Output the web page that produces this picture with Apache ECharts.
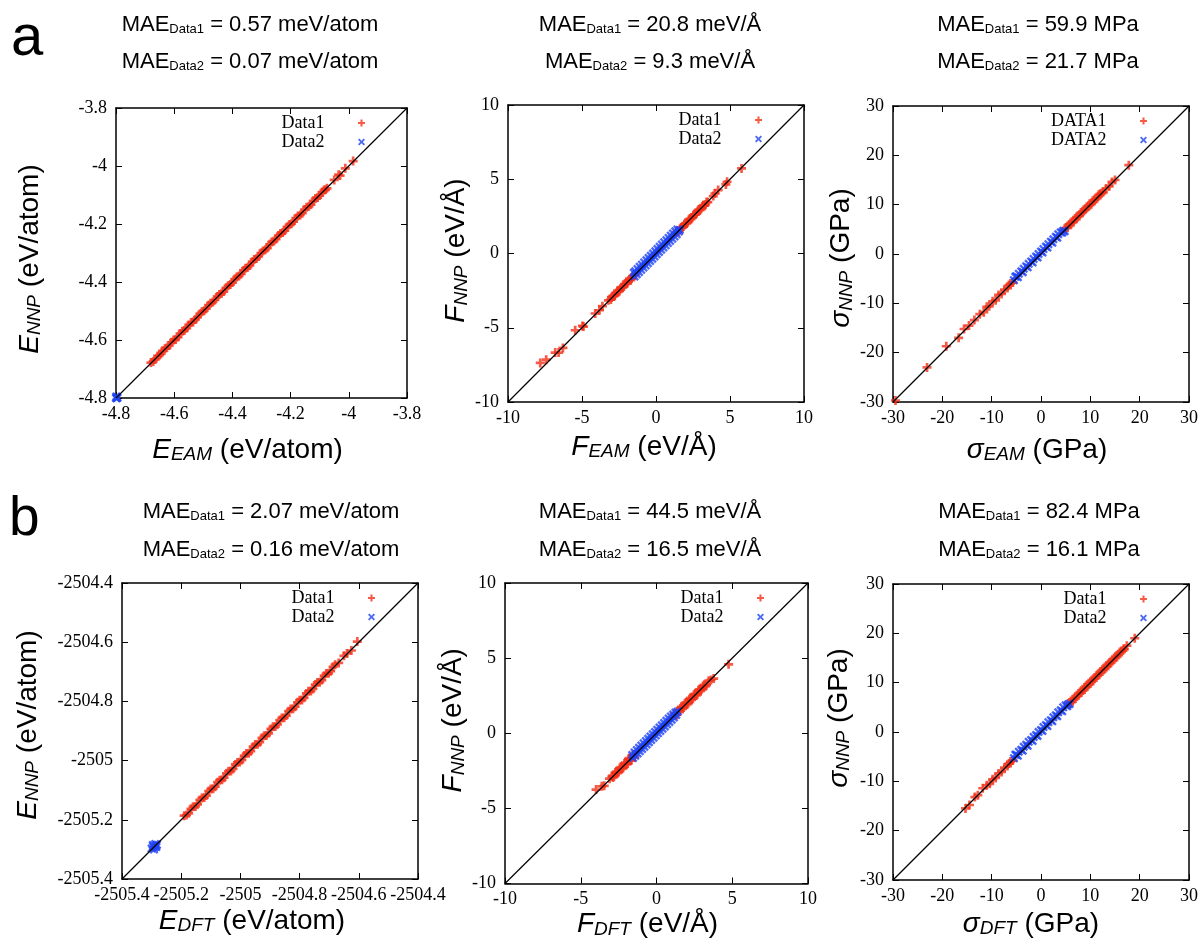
<!DOCTYPE html>
<html>
<head>
<meta charset="utf-8">
<script src="https://cdn.jsdelivr.net/npm/echarts@6/dist/echarts.min.js"></script>
<style>
html, body { margin: 0; padding: 0; background: #fff; }
#chart { width: 1201px; height: 940px; }
</style>
</head>
<body>
<div id="chart"></div>
<script>
// ---------- values ----------
// axis ranges: [min, max, interval]
var eamEnergyAxis = [-4.8, -3.8, 0.2];
var eamForceAxis = [-10, 10, 5];
var eamStressAxis = [-30, 30, 10];
var dftEnergyAxis = [-2505.4, -2504.4, 0.2];
var dftForceAxis = [-10, 10, 5];
var dftStressAxis = [-30, 30, 10];

// row a : EAM reference vs NNP
var eamEnergyData1 = [[-4.680,-4.678],[-4.672,-4.674],[-4.665,-4.667],[-4.657,-4.655],[-4.650,-4.652],[-4.645,-4.647],
  [-4.640,-4.637],[-4.632,-4.630],[-4.625,-4.627],[-4.617,-4.619],[-4.610,-4.608],[-4.602,-4.600],[-4.595,-4.598],
  [-4.587,-4.590],[-4.580,-4.578],[-4.572,-4.570],[-4.565,-4.567],[-4.557,-4.559],[-4.550,-4.548],[-4.542,-4.540],
  [-4.535,-4.538],[-4.527,-4.529],[-4.520,-4.521],[-4.512,-4.510],[-4.505,-4.503],[-4.497,-4.499],[-4.490,-4.492],
  [-4.482,-4.480],[-4.475,-4.473],[-4.467,-4.469],[-4.460,-4.462],[-4.452,-4.450],[-4.445,-4.443],[-4.437,-4.439],
  [-4.430,-4.433],[-4.422,-4.420],[-4.415,-4.413],[-4.407,-4.409],[-4.400,-4.402],[-4.392,-4.390],[-4.385,-4.383],
  [-4.377,-4.379],[-4.370,-4.372],[-4.362,-4.360],[-4.355,-4.353],[-4.347,-4.349],[-4.340,-4.343],[-4.332,-4.330],
  [-4.325,-4.322],[-4.317,-4.319],[-4.310,-4.312],[-4.302,-4.300],[-4.295,-4.293],[-4.287,-4.289],[-4.280,-4.283],
  [-4.272,-4.270],[-4.265,-4.262],[-4.257,-4.259],[-4.250,-4.252],[-4.242,-4.240],[-4.235,-4.233],[-4.227,-4.229],
  [-4.220,-4.223],[-4.212,-4.210],[-4.205,-4.203],[-4.197,-4.199],[-4.190,-4.192],[-4.182,-4.180],[-4.175,-4.172],
  [-4.167,-4.169],[-4.160,-4.163],[-4.152,-4.150],[-4.145,-4.142],[-4.137,-4.139],[-4.130,-4.133],[-4.122,-4.120],
  [-4.115,-4.112],[-4.107,-4.109],[-4.100,-4.102],[-4.092,-4.090],[-4.085,-4.083],[-4.080,-4.082],[-4.075,-4.077],
  [-4.050,-4.048],[-4.035,-4.030],[-4.030,-4.033],[-4.012,-4.008],[-3.985,-3.983]];
var eamEnergyData2 = [[-4.800,-4.800],[-4.797,-4.797],[-4.799,-4.795],[-4.795,-4.799],[-4.798,-4.801]];

var eamForceData1 = [[-7.82,-7.37],[-7.42,-7.15],[-6.81,-6.67],[-6.58,-6.67],[-6.29,-6.36],[-5.46,-5.17],[-4.97,-4.88],
  [-4.90,-4.92],[-4.11,-4.04],[-3.82,-3.82],[-3.62,-3.55],[-3.21,-3.15],[-3.05,-3.10],[-3.00,-2.95],[-2.92,-2.86],
  [-2.85,-2.88],[-2.78,-2.82],[-2.70,-2.66],[-2.60,-2.50],[-2.55,-2.58],[-2.47,-2.52],[-2.40,-2.36],[-2.32,-2.27],
  [-2.25,-2.29],[-2.17,-2.22],[-2.10,-2.06],[-2.00,-1.90],[-1.95,-1.99],[-1.87,-1.83],[-1.80,-1.76],[-1.70,-1.80],
  [-1.65,-1.69],[-1.57,-1.53],[-1.50,-1.46],[-1.40,-1.42],
  [1.40,1.45],[1.48,1.52],[1.55,1.50],[1.62,1.66],[1.70,1.74],[1.77,1.73],[1.85,1.81],[1.92,1.97],[2.00,2.05],
  [2.07,2.02],[2.15,2.11],[2.22,2.27],[2.30,2.34],[2.37,2.32],[2.45,2.41],[2.52,2.57],[2.60,2.64],[2.67,2.62],
  [2.75,2.71],[2.82,2.87],[2.90,2.95],[2.97,2.92],[3.05,3.01],[3.12,3.17],[3.20,3.24],[3.27,3.22],[3.35,3.30],
  [3.42,3.47],[3.50,3.45],[3.87,3.87],[3.98,4.04],[4.20,4.27],[4.72,4.65],[4.80,4.83],[5.78,5.73]];
var eamForceData2 = [[-1.50,-1.30],[-1.45,-1.55],[-1.40,-1.20],[-1.30,-1.40],[-1.25,-1.05],[-1.15,-1.25],[-1.10,-0.90],
  [-1.00,-1.10],[-0.95,-0.75],[-0.85,-0.95],[-0.80,-0.60],[-0.70,-0.80],[-0.65,-0.45],[-0.55,-0.65],[-0.50,-0.30],
  [-0.40,-0.50],[-0.35,-0.15],[-0.25,-0.35],[-0.20,0.00],[-0.10,-0.20],[-0.05,0.15],[0.05,-0.05],[0.10,0.30],
  [0.20,0.10],[0.25,0.45],[0.35,0.25],[0.40,0.60],[0.50,0.40],[0.55,0.75],[0.65,0.55],[0.70,0.90],[0.80,0.70],
  [0.85,1.05],[0.95,0.85],[1.00,1.20],[1.10,1.00],[1.15,1.35],[1.25,1.15],[1.30,1.50],[1.40,1.30],[1.45,1.62],
  [1.55,1.48],[1.60,1.58]];

var eamStressData1 = [[-29.5,-29.7],[-23.1,-23.0],[-19.2,-18.7],[-16.7,-17.0],[-15.6,-15.2],[-14.6,-14.5],[-13.5,-13.4],
  [-12.4,-12.2],[-11.6,-11.8],[-11.0,-10.7],[-10.5,-10.6],[-9.8,-9.6],[-9.2,-9.4],[-8.6,-8.3],[-8.0,-8.1],[-7.4,-7.2],
  [-6.8,-6.9],[-6.5,-6.3],[-6.2,-6.0],[-5.7,-5.8],
  [4.8,5.1],[5.1,5.3],[5.4,5.3],[5.7,6.0],[6.0,6.3],[6.3,6.3],[6.6,6.5],[6.9,7.2],[7.2,7.5],[7.5,7.5],[7.8,7.7],
  [8.1,8.4],[8.4,8.6],[8.7,8.7],[9.0,9.0],[9.3,9.6],[9.6,9.8],[9.9,9.9],[10.2,10.1],[10.5,10.8],[10.8,11.0],
  [11.1,11.1],[11.4,11.3],[11.7,12.0],[12.0,12.2],[12.3,12.3],[12.6,12.5],[13.2,13.3],[13.8,13.7],[14.4,14.6],
  [15.0,15.0],[17.8,18.0]];
var eamStressData2 = [[-5.5,-5.3],[-5.2,-4.6],[-5.0,-4.5],[-4.7,-4.7],[-4.5,-4.0],[-4.0,-3.5],[-3.7,-3.7],[-3.5,-3.0],
  [-3.0,-2.5],[-2.7,-2.7],[-2.5,-2.0],[-2.0,-1.5],[-1.7,-1.7],[-1.5,-1.0],[-1.0,-0.5],[-0.7,-0.7],[-0.5,0.0],
  [0.0,0.5],[0.3,0.3],[0.5,1.0],[1.0,1.5],[1.3,1.3],[1.5,2.0],[2.0,2.5],[2.3,2.3],[2.5,3.0],[3.0,3.5],[3.3,3.3],
  [3.5,4.0],[4.0,4.4],[4.3,4.3],[4.5,4.7],[4.8,4.6]];

// row b : DFT reference vs NNP
var dftEnergyData1 = [[-2505.190,-2505.186],[-2505.182,-2505.184],[-2505.175,-2505.178],[-2505.167,-2505.163],
  [-2505.160,-2505.156],[-2505.152,-2505.155],[-2505.145,-2505.148],[-2505.137,-2505.133],[-2505.130,-2505.126],
  [-2505.122,-2505.125],[-2505.115,-2505.118],[-2505.107,-2505.103],[-2505.100,-2505.096],[-2505.092,-2505.095],
  [-2505.085,-2505.088],[-2505.077,-2505.073],[-2505.070,-2505.066],[-2505.062,-2505.065],[-2505.055,-2505.058],
  [-2505.047,-2505.043],[-2505.040,-2505.036],[-2505.032,-2505.035],[-2505.025,-2505.028],[-2505.017,-2505.013],
  [-2505.010,-2505.006],[-2505.002,-2505.005],[-2504.995,-2504.998],[-2504.987,-2504.983],[-2504.980,-2504.976],
  [-2504.972,-2504.975],[-2504.965,-2504.968],[-2504.957,-2504.953],[-2504.950,-2504.946],[-2504.942,-2504.945],
  [-2504.935,-2504.938],[-2504.927,-2504.923],[-2504.920,-2504.916],[-2504.912,-2504.915],[-2504.905,-2504.908],
  [-2504.897,-2504.893],[-2504.890,-2504.886],[-2504.882,-2504.885],[-2504.875,-2504.878],[-2504.867,-2504.863],
  [-2504.860,-2504.856],[-2504.852,-2504.855],[-2504.845,-2504.848],[-2504.837,-2504.833],[-2504.830,-2504.826],
  [-2504.822,-2504.825],[-2504.815,-2504.818],[-2504.807,-2504.803],[-2504.800,-2504.796],[-2504.792,-2504.795],
  [-2504.785,-2504.788],[-2504.777,-2504.773],[-2504.770,-2504.766],[-2504.762,-2504.765],[-2504.755,-2504.758],
  [-2504.747,-2504.743],[-2504.740,-2504.736],[-2504.732,-2504.735],[-2504.725,-2504.728],[-2504.717,-2504.713],
  [-2504.710,-2504.706],[-2504.702,-2504.705],[-2504.695,-2504.698],[-2504.687,-2504.683],[-2504.680,-2504.676],
  [-2504.668,-2504.670],[-2504.650,-2504.646],[-2504.640,-2504.638],[-2504.625,-2504.628],[-2504.605,-2504.598]];
var dftEnergyData2 = [[-2505.300,-2505.297],[-2505.295,-2505.290],[-2505.290,-2505.293],[-2505.285,-2505.288],
  [-2505.282,-2505.284],[-2505.292,-2505.300],[-2505.288,-2505.282],[-2505.296,-2505.285],[-2505.284,-2505.292]];

var dftForceData1 = [[-3.99,-3.75],[-3.61,-3.53],[-3.45,-3.50],[-3.10,-3.02],[-2.95,-2.88],[-2.87,-2.95],[-2.80,-2.86],
  [-2.72,-2.62],[-2.65,-2.55],[-2.57,-2.65],[-2.50,-2.58],[-2.42,-2.32],[-2.35,-2.25],[-2.27,-2.37],[-2.20,-2.30],
  [-2.12,-2.02],[-2.05,-1.95],[-1.97,-2.07],[-1.90,-2.02],[-1.85,-1.72],[-1.80,-1.65],[-1.72,-1.82],[-1.65,-1.78],
  [-1.57,-1.48],[-1.50,-1.42],[-1.45,-1.60],
  [1.20,1.32],[1.27,1.20],[1.35,1.25],[1.42,1.52],[1.50,1.45],[1.57,1.65],[1.65,1.75],[1.72,1.62],[1.80,1.72],
  [1.87,1.97],[1.95,2.05],[2.02,1.92],[2.10,2.02],[2.17,2.27],[2.25,2.35],[2.32,2.22],[2.40,2.30],[2.47,2.57],
  [2.55,2.62],[2.62,2.52],[2.70,2.60],[2.77,2.87],[2.85,2.92],[2.92,2.82],[3.00,2.95],[3.07,3.15],[3.15,3.22],
  [3.22,3.12],[3.30,3.20],[3.45,3.50],[3.60,3.55],[3.77,3.64],[4.76,4.59]];
var dftForceData2 = [[-1.60,-1.45],[-1.55,-1.65],[-1.45,-1.28],[-1.40,-1.50],[-1.30,-1.12],[-1.25,-1.35],[-1.15,-0.97],
  [-1.10,-1.20],[-1.00,-0.82],[-0.95,-1.05],[-0.85,-0.67],[-0.80,-0.90],[-0.70,-0.52],[-0.65,-0.75],[-0.55,-0.37],
  [-0.50,-0.60],[-0.40,-0.22],[-0.35,-0.45],[-0.25,-0.07],[-0.20,-0.30],[-0.10,0.08],[-0.05,-0.15],[0.05,0.23],
  [0.10,0.00],[0.20,0.38],[0.25,0.15],[0.35,0.53],[0.40,0.30],[0.50,0.68],[0.55,0.45],[0.65,0.83],[0.70,0.60],
  [0.80,0.98],[0.85,0.75],[0.95,1.12],[1.00,0.90],[1.10,1.25],[1.15,1.05],[1.25,1.38],[1.30,1.22],[1.40,1.45]];

var dftStressData1 = [[-15.3,-15.5],[-14.5,-14.8],[-13.4,-13.2],[-12.8,-12.8],[-11.8,-11.4],[-11.0,-10.8],[-10.4,-10.5],
  [-9.8,-9.6],[-9.2,-9.3],[-8.6,-8.4],[-8.0,-8.1],[-7.4,-7.2],[-6.8,-6.9],[-6.5,-6.4],[-6.2,-6.0],[-5.7,-5.8],
  [5.5,5.8],[5.8,5.6],[6.1,6.0],[6.4,6.6],[6.7,6.9],[7.0,6.8],[7.3,7.2],[7.6,7.8],[7.9,8.1],[8.2,8.0],[8.5,8.4],
  [8.8,9.0],[9.1,9.3],[9.4,9.2],[9.7,9.6],[10.0,10.2],[10.3,10.5],[10.6,10.4],[10.9,10.8],[11.2,11.4],[11.5,11.7],
  [11.8,11.6],[12.1,12.0],[12.4,12.6],[12.7,12.9],[13.0,12.8],[13.3,13.2],[13.6,13.8],[13.9,14.1],[14.2,14.0],
  [14.5,14.4],[14.8,15.0],[15.1,15.3],[15.4,15.2],[15.7,15.6],[16.0,16.2],[16.3,16.4],[16.6,16.5],[16.9,16.8],
  [17.4,17.5],[19.0,19.0]];
var dftStressData2 = [[-5.5,-5.3],[-5.2,-4.6],[-5.0,-4.6],[-4.7,-4.8],[-4.5,-4.0],[-4.0,-3.6],[-3.7,-3.8],[-3.5,-3.0],
  [-3.0,-2.6],[-2.7,-2.8],[-2.5,-2.0],[-2.0,-1.6],[-1.7,-1.8],[-1.5,-1.0],[-1.0,-0.6],[-0.7,-0.8],[-0.5,0.0],
  [0.0,0.4],[0.3,0.2],[0.5,1.0],[1.0,1.4],[1.3,1.2],[1.5,2.0],[2.0,2.4],[2.3,2.2],[2.5,3.0],[3.0,3.4],[3.3,3.2],
  [3.5,4.0],[4.0,4.4],[4.3,4.2],[4.5,5.0],[5.0,5.4],[5.3,5.2],[5.5,5.6],[5.8,5.7]];

// MAE annotations
var maeRowA = [['0.57 meV/atom', '0.07 meV/atom'], ['20.8 meV/\u00c5', '9.3 meV/\u00c5'], ['59.9 MPa', '21.7 MPa']];
var maeRowB = [['2.07 meV/atom', '0.16 meV/atom'], ['44.5 meV/\u00c5', '16.5 meV/\u00c5'], ['82.4 MPa', '16.1 MPa']];

// ---------- styling ----------
var SANS = 'Liberation Sans, Arial, Helvetica, sans-serif';
var SERIF = 'Liberation Serif, Times New Roman, serif';
var RED = '#f5321a';
var BLUE = '#1f44f5';
var plusPath = 'path://M2.8,0H5.2V2.8H8V5.2H5.2V8H2.8V5.2H0V2.8H2.8Z';
var crossPath = 'path://M1.5,0L4,2.5L6.5,0L8,1.5L5.5,4L8,6.5L6.5,8L4,5.5L1.5,8L0,6.5L2.5,4L0,1.5Z';

var nameRich = {
    it: { fontFamily: SANS, fontSize: 28, fontStyle: 'italic', lineHeight: 34, color: '#000' },
    sub: { fontFamily: SANS, fontSize: 19, fontStyle: 'italic', lineHeight: 19, padding: [10, 0, 0, 0], color: '#000' },
    rm: { fontFamily: SANS, fontSize: 28, lineHeight: 34, color: '#000' }
};
function axisName(sym, sub, unit) {
    return '{it|' + sym + '}{sub|' + sub + '}{rm| (' + unit + ')}';
}

// grid: [left, top, width, height]; xShift/yShift move the axis titles off-centre as in the figure
var panels = [
    { grid: [116, 108, 291, 290], axis: eamEnergyAxis, d1: eamEnergyData1, d2: eamEnergyData2, names: ['Data1', 'Data2'],
      xName: axisName('E', 'EAM', 'eV/atom'), yName: axisName('E', 'NNP', 'eV/atom'),
      xGap: 35, yGap: 69, xShift: -14, yShift: 6, legend: [836, 114] },
    { grid: [508, 105, 296, 297], axis: eamForceAxis, d1: eamForceData1, d2: eamForceData2, names: ['Data1', 'Data2'],
      xName: axisName('F', 'EAM', 'eV/\u00c5'), yName: axisName('F', 'NNP', 'eV/\u00c5'),
      xGap: 28, yGap: 18, xShift: -12, yShift: -3, legend: [439, 111] },
    { grid: [893, 106, 296, 296], axis: eamStressAxis, d1: eamStressData1, d2: eamStressData2, names: ['DATA1', 'DATA2'],
      xName: axisName('\u03c3', 'EAM', 'GPa'), yName: axisName('\u03c3', 'NNP', 'GPa'),
      xGap: 31, yGap: 31, xShift: -4, yShift: 4, legend: [54, 112] },
    { grid: [122, 583, 296, 296], axis: dftEnergyAxis, d1: dftEnergyData1, d2: dftEnergyData2, names: ['Data1', 'Data2'],
      xName: axisName('E', 'DFT', 'eV/atom'), yName: axisName('E', 'NNP', 'eV/atom'),
      xGap: 25, yGap: 77, xShift: -18, yShift: -6, legend: [826, 589] },
    { grid: [505, 583, 303, 301], axis: dftForceAxis, d1: dftForceData1, d2: dftForceData2, names: ['Data1', 'Data2'],
      xName: axisName('F', 'DFT', 'eV/\u00c5'), yName: axisName('F', 'NNP', 'eV/\u00c5'),
      xGap: 24, yGap: 13, xShift: -9, yShift: -13, legend: [437, 589] },
    { grid: [893, 584, 296, 296], axis: dftStressAxis, d1: dftStressData1, d2: dftStressData2, names: ['Data1', 'Data2'],
      xName: axisName('\u03c3', 'DFT', 'GPa'), yName: axisName('\u03c3', 'NNP', 'GPa'),
      xGap: 27, yGap: 37, xShift: -10, yShift: -14, legend: [54, 590] }
];

function fmt(v) { return String(Math.round(v * 1000) / 1000); }

var grids = [], xAxes = [], yAxes = [], series = [], legends = [];

panels.forEach(function (p, i) {
    grids.push({ left: p.grid[0], top: p.grid[1], width: p.grid[2], height: p.grid[3], containLabel: false });
    var base = {
        gridIndex: i, type: 'value', min: p.axis[0], max: p.axis[1], interval: p.axis[2],
        splitLine: { show: false },
        axisLine: { show: true, onZero: false, lineStyle: { color: '#000', width: 1.5 } },
        axisTick: { show: true, inside: true, length: 6, lineStyle: { color: '#000', width: 1 } }
    };
    var xs = p.xShift, ys = p.yShift;
    xAxes.push(Object.assign({}, base, {
        position: 'bottom',
        axisLabel: { show: true, margin: 7, fontFamily: SERIF, fontSize: 18, color: '#000', formatter: fmt },
        name: p.xName, nameLocation: 'middle', nameGap: p.xGap,
        nameTextStyle: { rich: nameRich, padding: [0, xs < 0 ? -2 * xs : 0, 0, xs > 0 ? 2 * xs : 0] }
    }));
    xAxes.push(Object.assign({}, base, { position: 'top', axisLabel: { show: false } }));
    yAxes.push(Object.assign({}, base, {
        position: 'left',
        axisLabel: { show: true, margin: 9, fontFamily: SERIF, fontSize: 18, color: '#000', formatter: fmt },
        name: p.yName, nameLocation: 'middle', nameGap: p.yGap, nameRotate: 90,
        nameTextStyle: { rich: nameRich, padding: [0, ys > 0 ? 2 * ys : 0, 0, ys < 0 ? -2 * ys : 0] }
    }));
    yAxes.push(Object.assign({}, base, { position: 'right', axisLabel: { show: false } }));

    series.push({
        type: 'scatter', name: p.names[0], xAxisIndex: 2 * i, yAxisIndex: 2 * i, data: p.d1,
        symbol: plusPath, symbolSize: 9, itemStyle: { color: RED }, clip: false, z: 2, silent: true
    });
    series.push({
        type: 'scatter', name: p.names[1], xAxisIndex: 2 * i, yAxisIndex: 2 * i, data: p.d2,
        symbol: crossPath, symbolSize: 9, itemStyle: { color: BLUE }, clip: false, z: 2, silent: true
    });
    // y = x reference line
    series.push({
        type: 'line', xAxisIndex: 2 * i, yAxisIndex: 2 * i,
        data: [[p.axis[0], p.axis[0]], [p.axis[1], p.axis[1]]],
        symbol: 'none', lineStyle: { color: '#000', width: 1.2 }, z: 3, silent: true
    });

    legends.push({
        data: [{ name: p.names[0], icon: plusPath }, { name: p.names[1], icon: crossPath }],
        orient: 'vertical', align: 'right', right: p.legend[0], top: p.legend[1], padding: 0,
        itemWidth: 64, itemHeight: 7, itemGap: 1, selectedMode: false,
        textStyle: { fontFamily: SERIF, fontSize: 18, color: '#000', lineHeight: 18 }
    });
});

// MAE texts and panel letters
var maeRich = {
    m: { fontFamily: SANS, fontSize: 22, lineHeight: 28, color: '#000' },
    d: { fontFamily: SANS, fontSize: 13, lineHeight: 13, padding: [9, 0, 0, 0], color: '#000' }
};
var graphics = [];
function addMae(rows, cx, yMid) {
    rows.forEach(function (r, c) {
        ['Data1', 'Data2'].forEach(function (lbl, k) {
            graphics.push({
                type: 'text', x: cx[c], y: yMid[k], silent: true,
                style: { text: '{m|MAE}{d|' + lbl + '}{m| = ' + r[k] + '}', rich: maeRich, align: 'center', verticalAlign: 'middle' }
            });
        });
    });
}
addMae(maeRowA, [250, 650, 1038], [25, 62]);
addMae(maeRowB, [271, 650, 1039], [512, 550]);
graphics.push({ type: 'text', x: 11, y: 39, silent: true,
    style: { text: 'a', fontFamily: SANS, fontSize: 58, fill: '#000', align: 'left', verticalAlign: 'middle' } });
graphics.push({ type: 'text', x: 9, y: 520, silent: true,
    style: { text: 'b', fontFamily: SANS, fontSize: 55, fill: '#000', align: 'left', verticalAlign: 'middle' } });

var myChart = echarts.init(document.getElementById('chart'));
myChart.setOption({
    backgroundColor: '#fff',
    animation: false,
    grid: grids,
    xAxis: xAxes,
    yAxis: yAxes,
    legend: legends,
    series: series,
    graphic: graphics
});
</script>
</body>
</html>
